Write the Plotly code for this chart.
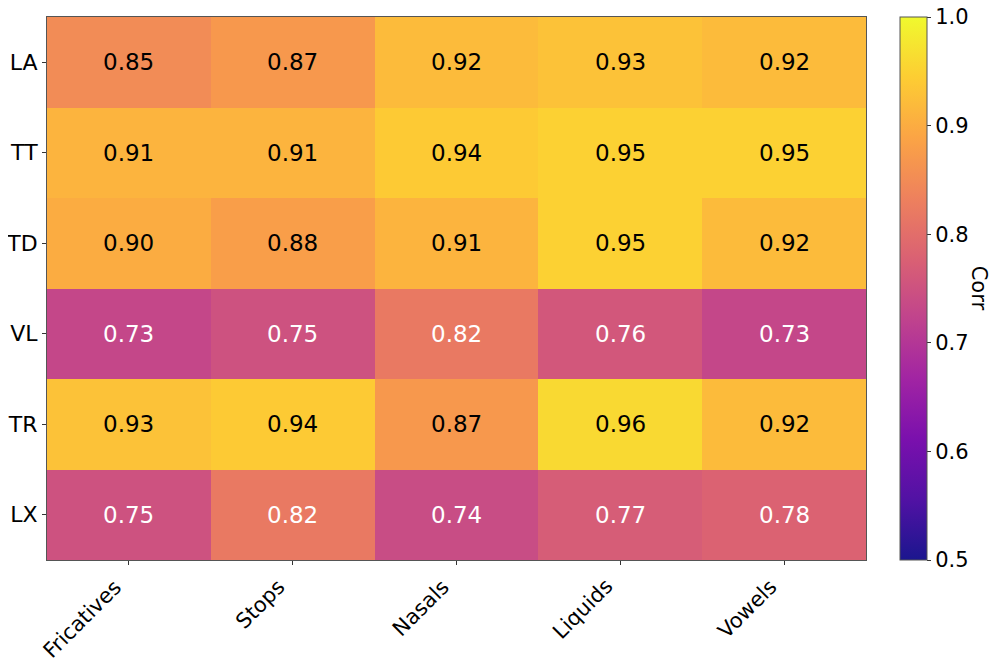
import plotly.graph_objects as go
import plotly.colors as pc

rows = ["LA", "TT", "TD", "VL", "TR", "LX"]
cols = ["Fricatives", "Stops", "Nasals", "Liquids", "Vowels"]
la = [0.85, 0.87, 0.92, 0.93, 0.92]
tt = [0.91, 0.91, 0.94, 0.95, 0.95]
td = [0.90, 0.88, 0.91, 0.95, 0.92]
vl = [0.73, 0.75, 0.82, 0.76, 0.73]
tr = [0.93, 0.94, 0.87, 0.96, 0.92]
lx = [0.75, 0.82, 0.74, 0.77, 0.78]
z = [la, tt, td, vl, tr, lx]

# plasma, very slightly washed out
alpha = 0.94
scale = []
n = len(pc.sequential.Plasma)
for i, c in enumerate(pc.sequential.Plasma):
    r, g, b = pc.hex_to_rgb(c)
    r = r * alpha + 255 * (1 - alpha)
    g = g * alpha + 255 * (1 - alpha)
    b = b * alpha + 255 * (1 - alpha)
    scale.append([i / (n - 1), "rgb(%d,%d,%d)" % (r, g, b)])

font = "DejaVu Sans"

fig = go.Figure(go.Heatmap(
    z=z, x=cols, y=rows, zmin=0.5, zmax=1.0, colorscale=scale,
    colorbar=dict(
        x=1.0415, xanchor="left", y=0, yanchor="bottom", len=1, lenmode="fraction",
        thickness=27, outlinewidth=1, outlinecolor="#555", xpad=0, ypad=0,
        tickvals=[0.5, 0.6, 0.7, 0.8, 0.9, 1.0], ticktext=["0.5", "0.6", "0.7", "0.8", "0.9", "1.0"],
        ticks="outside", ticklen=4, tickcolor="#333", ticklabeloverflow="allow",
        tickfont=dict(family=font, size=21, color="black"),
    ),
))

for i, r in enumerate(rows):
    for j, c in enumerate(cols):
        v = z[i][j]
        fig.add_annotation(x=c, y=r, text="%.2f" % v, showarrow=False,
                           font=dict(family=font, size=23,
                                     color="white" if v < 0.84 else "black"))

# rotated category labels, right/top aligned like matplotlib ha="right"
for c in cols:
    fig.add_annotation(x=c, xref="x", y=0, yref="paper", text=c, showarrow=False,
                       textangle=-45, xanchor="right", yanchor="top",
                       xshift=0, yshift=-12,
                       font=dict(family=font, size=21, color="black"))

fig.add_annotation(xref="paper", yref="paper", x=1.139, y=0.5, text="Corr",
                   textangle=90, showarrow=False, xanchor="center",
                   font=dict(family=font, size=21, color="black"))

fig.update_xaxes(range=[-0.5, len(cols) - 0.5], showticklabels=False,
                 ticks="outside", ticklen=4, tickcolor="#333", automargin=False,
                 showline=True, linecolor="#555", linewidth=1, mirror=True)
fig.update_yaxes(range=[len(rows) - 0.5, -0.5], ticks="outside", ticklen=4, tickcolor="#333",
                 tickfont=dict(family=font, size=22, color="black"), automargin=False,
                 showline=True, linecolor="#555", linewidth=1, mirror=True)

# page body has an 8px margin, so the figure is shifted by 8px
fig.update_layout(width=989, height=661, plot_bgcolor="white", paper_bgcolor="white",
                  margin=dict(l=39, r=131, t=9, b=109, autoexpand=False), showlegend=False)

fig.write_html("out.html")
